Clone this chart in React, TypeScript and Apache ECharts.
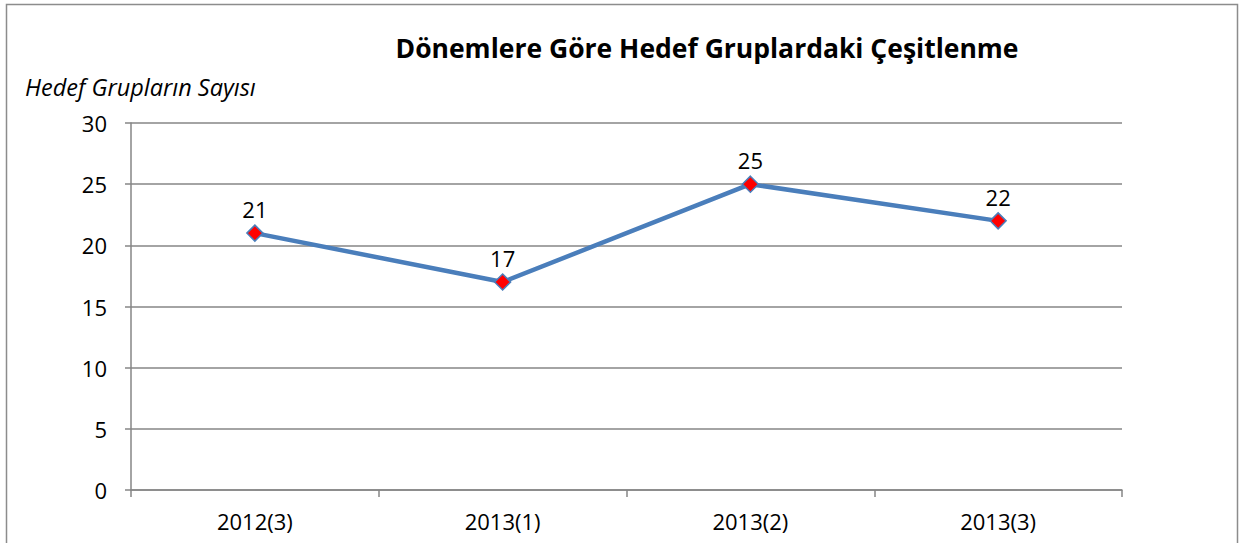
import React, { useEffect, useRef } from "react";
import * as echarts from "echarts";

const categories = ["2012(3)", "2013(1)", "2013(2)", "2013(3)"];
const values = [21, 17, 25, 22];
const titleText = "Dönemlere Göre Hedef Gruplardaki Çeşitlenme";
const yAxisTitle = "Hedef Grupların Sayısı";

export default function App() {
  const ref = useRef<HTMLDivElement>(null);
  useEffect(() => {
    document.body.style.margin = "0";
    const chart = echarts.init(ref.current!, null, { renderer: "svg" });
    const font = "'Open Sans', 'Noto Sans', sans-serif";
    chart.setOption({
      animation: false,
      backgroundColor: "#ffffff",
      textStyle: { fontFamily: font },
      grid: { left: 131, right: 119, top: 123, bottom: 53 },
      graphic: [
        {
          type: "rect",
          shape: { x: 6.5, y: 4.5, width: 1231, height: 560 },
          style: { fill: "none", stroke: "#8c8c8c", lineWidth: 1.5 },
          silent: true,
        },
        {
          type: "text",
          x: 707,
          y: 48,
          style: {
            text: titleText,
            fontSize: 26.5,
            fontWeight: "bold",
            fontFamily: font,
            fill: "#000",
            align: "center",
            verticalAlign: "middle",
          },
        },
        {
          type: "text",
          x: 25,
          y: 87,
          style: {
            text: yAxisTitle,
            fontSize: 23.5,
            fontStyle: "italic",
            fontFamily: font,
            fill: "#000",
            align: "left",
            verticalAlign: "middle",
          },
        },
      ],
      xAxis: {
        type: "category",
        data: categories,
        boundaryGap: true,
        axisLine: { lineStyle: { color: "#868686", width: 1.5 } },
        axisTick: { show: true, length: 7, inside: false, lineStyle: { color: "#868686", width: 1.5 } },
        axisLabel: { color: "#000", fontSize: 22, margin: 20, fontFamily: font },
        splitLine: { show: false },
      },
      yAxis: {
        type: "value",
        min: 0,
        max: 30,
        interval: 5,
        axisLine: { show: true, lineStyle: { color: "#868686", width: 1.5 } },
        axisTick: { show: true, length: 6, lineStyle: { color: "#868686", width: 1.5 } },
        axisLabel: { color: "#000", fontSize: 22, margin: 24, fontFamily: font },
        splitLine: { show: true, lineStyle: { color: "#868686", width: 1.5 } },
      },
      series: [
        {
          type: "line",
          data: values,
          symbol: "diamond",
          symbolSize: 16,
          lineStyle: { color: "#4a7ebb", width: 4.5 },
          itemStyle: { color: "#ff0000", borderColor: "#4a7ebb", borderWidth: 1.5 },
          label: {
            show: true,
            position: "top",
            distance: 4,
            color: "#000",
            fontSize: 22,
            fontFamily: font,
          },
        },
      ],
    });
    return () => chart.dispose();
  }, []);
  return <div ref={ref} style={{ width: 1241, height: 543 }} />;
}
